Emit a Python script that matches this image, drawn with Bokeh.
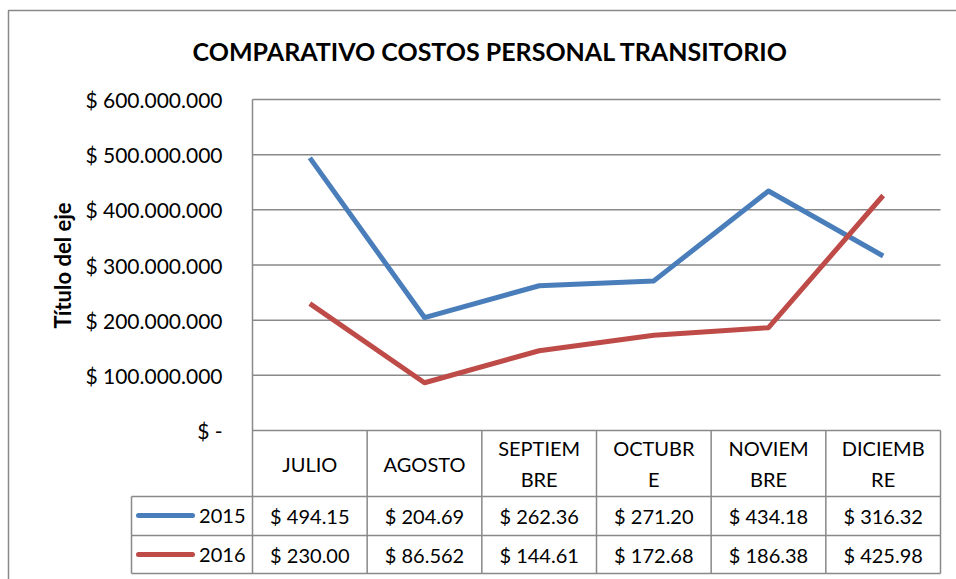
import math
from bokeh.plotting import figure
from bokeh.models import Range1d
from bokeh.core.properties import value
from bokeh.embed import file_html
from bokeh.resources import INLINE

# ---- data ----
categories = ["JULIO", "AGOSTO", "SEPTIEMBRE", "OCTUBRE", "NOVIEMBRE", "DICIEMBRE"]
header_labels = ["JULIO", "AGOSTO", "SEPTIEM\nBRE", "OCTUBR\nE", "NOVIEM\nBRE", "DICIEMB\nRE"]
series_names = ["2015", "2016"]
values_2015 = [494150000, 204690000, 262360000, 271200000, 434180000, 316320000]
values_2016 = [230000000, 86562000, 144610000, 172680000, 186380000, 425980000]
table_2015 = ["$ 494.15", "$ 204.69", "$ 262.36", "$ 271.20", "$ 434.18", "$ 316.32"]
table_2016 = ["$ 230.00", "$ 86.562", "$ 144.61", "$ 172.68", "$ 186.38", "$ 425.98"]
y_ticks = [0, 100000000, 200000000, 300000000, 400000000, 500000000, 600000000]
y_tick_labels = ["$ -", "$ 100.000.000", "$ 200.000.000", "$ 300.000.000",
                 "$ 400.000.000", "$ 500.000.000", "$ 600.000.000"]
title_text = "COMPARATIVO COSTOS PERSONAL TRANSITORIO"
axis_title = "Título del eje"

# ---- layout helpers (pixel -> data) ----
W, H = 956, 579
X_LEFT, X_RIGHT = 252.0, 940.0
CW = (X_RIGHT - X_LEFT) / len(categories)
Y_ZERO, Y_TOP = 430.0, 99.0
PPU = (Y_ZERO - Y_TOP) / 600000000.0

def dx(px):
    return (px - X_LEFT) / CW

def dy(py):
    return (Y_ZERO - py) / PPU

BLUE = "#4A7EBB"
RED = "#BE4B48"
GRID = "#898989"
FONT = value("Lato")

p = figure(width=W, height=H, min_border=0, toolbar_location=None,
           output_backend="svg", x_axis_type=None, y_axis_type=None,
           x_range=Range1d(dx(0), dx(W)), y_range=Range1d(dy(H), dy(0)))
p.outline_line_color = None
p.grid.visible = False
p.background_fill_color = "white"
p.border_fill_color = "white"

# outer chart border
p.multi_line(xs=[[dx(8), dx(8), dx(W + 5)]], ys=[[dy(H + 5), dy(10), dy(10)]],
             line_color=GRID, line_width=1.5)

n = len(categories)
# horizontal gridlines
p.multi_line(xs=[[0, n] for _ in y_ticks], ys=[[t, t] for t in y_ticks],
             line_color=GRID, line_width=1.5)
# plot-area left line + table verticals
p.multi_line(xs=[[0, 0]], ys=[[600000000, dy(573)]], line_color=GRID, line_width=1.5)
p.multi_line(xs=[[i, i] for i in range(1, n + 1)], ys=[[0, dy(573)] for _ in range(n)],
             line_color=GRID, line_width=1.5)
# table rows
p.multi_line(xs=[[dx(131), n]] * 3, ys=[[dy(496)] * 2, [dy(535)] * 2, [dy(573)] * 2],
             line_color=GRID, line_width=1.5)
p.multi_line(xs=[[dx(131), dx(131)]], ys=[[dy(496), dy(573)]], line_color=GRID, line_width=1.5)

# data lines
xs = [i + 0.5 for i in range(n)]
p.line(xs, values_2015, line_color=BLUE, line_width=5, line_join="round")
p.line(xs, values_2016, line_color=RED, line_width=5, line_join="round")

# y tick labels
p.text(x=[dx(222)] * len(y_ticks), y=y_ticks, text=y_tick_labels, text_font=FONT,
       text_font_size="21px", text_align="right", text_baseline="middle", text_color="#000000")

# title
p.text(x=[dx(490)], y=[dy(50)], text=[title_text], text_font=FONT, text_font_size="25px",
       text_font_style="bold", text_align="center", text_baseline="middle", text_color="#000000")

# axis title
p.text(x=[dx(62)], y=[dy(265)], text=[axis_title], text_font=FONT, text_font_size="22px",
       text_font_style="bold", text_align="center", text_baseline="middle",
       angle=math.pi / 2, text_color="#000000")

# header labels
p.text(x=xs, y=[dy(463)] * n, text=header_labels, text_font=FONT, text_font_size="20px",
       text_align="center", text_baseline="middle", text_line_height=1.3, text_color="#000000")

# table rows
row_y = [dy(515), dy(554)]
p.text(x=xs, y=[row_y[0]] * n, text=table_2015, text_font=FONT, text_font_size="20px",
       text_align="center", text_baseline="middle", text_color="#000000")
p.text(x=xs, y=[row_y[1]] * n, text=table_2016, text_font=FONT, text_font_size="20px",
       text_align="center", text_baseline="middle", text_color="#000000")
p.text(x=[dx(245)] * 2, y=row_y, text=series_names, text_font=FONT, text_font_size="20px",
       text_align="right", text_baseline="middle", text_color="#000000")

# legend keys in table
p.segment(x0=[dx(138)] * 2, y0=row_y, x1=[dx(192)] * 2, y1=row_y,
          line_color=[BLUE, RED], line_width=5, line_cap="round")

open("out.html", "w").write(file_html(p, INLINE))
